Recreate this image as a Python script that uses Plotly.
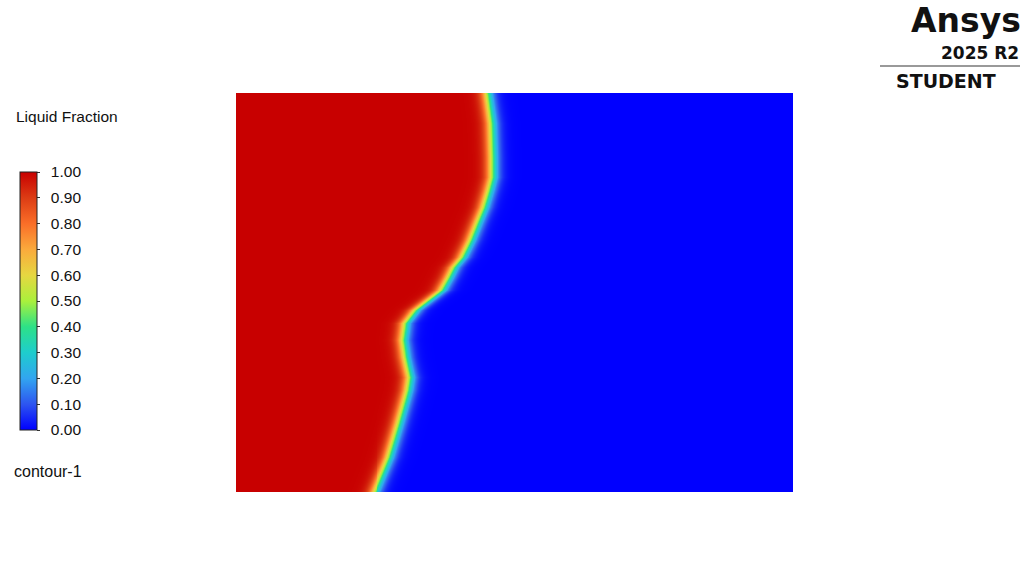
import numpy as np
import plotly.graph_objects as go

# ---- data ----
# Interface (liquid fraction = 0.5) location; domain width 0.14, height 0.1 (arbitrary units)
interface_y = [0.0, 0.00476, 0.00877, 0.01303, 0.01729, 0.02130, 0.02556, 0.02882, 0.03384,
               0.03810, 0.04236, 0.04561, 0.04812, 0.05063, 0.05389, 0.05639, 0.05890, 0.06316,
               0.06742, 0.07143, 0.07569, 0.07895, 0.08396, 0.09248, 0.10000]
interface_x = [0.03469, 0.03662, 0.03828, 0.03954, 0.04079, 0.04190, 0.04306, 0.04356, 0.04248,
               0.04190, 0.04248, 0.04499, 0.04826, 0.05153, 0.05336, 0.05462, 0.05673, 0.05882,
               0.06050, 0.06216, 0.06342, 0.06427, 0.06427, 0.06402, 0.06301]
domain_w = 0.14
domain_h = 0.10
transition_width = 0.001

tick_vals = [0.0, 0.1, 0.2, 0.3, 0.4, 0.5, 0.6, 0.7, 0.8, 0.9, 1.0]
tick_text = ["0.00", "0.10", "0.20", "0.30", "0.40", "0.50", "0.60", "0.70", "0.80", "0.90", "1.00"]

colorscale = [
    [0.0, "rgb(0,0,255)"],
    [0.1, "rgb(45,85,240)"],
    [0.2, "rgb(50,165,240)"],
    [0.3, "rgb(30,205,205)"],
    [0.4, "rgb(45,225,135)"],
    [0.5, "rgb(170,240,60)"],
    [0.6, "rgb(230,215,65)"],
    [0.7, "rgb(250,170,60)"],
    [0.8, "rgb(250,110,40)"],
    [0.9, "rgb(220,60,20)"],
    [1.0, "rgb(200,0,0)"],
]

# ---- field built from the interface ----
nx, ny = 560, 400
xs = np.linspace(0, domain_w, nx)
ys = np.linspace(0, domain_h, ny)
xi = np.interp(ys, interface_y, interface_x)
X, Y = np.meshgrid(xs, ys)
d = X - xi[:, None]
Z = 1.0 / (1.0 + np.exp(d / transition_width))

pad = "\u2002"
fig = go.Figure()
fig.add_trace(go.Heatmap(
    x=xs, y=ys, z=Z, zmin=0, zmax=1, colorscale=colorscale, zsmooth="best",
    colorbar=dict(
        x=20 / 1029, xanchor="left", xref="paper",
        y=1 - 301 / 586, yanchor="middle",
        len=258 / 586, lenmode="fraction",
        thickness=17, thicknessmode="pixels",
        outlinecolor="#222222", outlinewidth=1,
        tickvals=tick_vals, ticktext=[pad + t for t in tick_text],
        ticks="outside", ticklen=3, tickcolor="#333333",
        tickfont=dict(family="Liberation Sans, Arial, sans-serif", size=15.5, color="#111111"),
        xpad=0, ypad=0,
    ),
    hoverinfo="skip",
))

W, H = 1029, 586
fig.update_layout(
    width=W, height=H,
    margin=dict(l=0, r=0, t=0, b=0),
    paper_bgcolor="white", plot_bgcolor="white",
    xaxis=dict(domain=[236 / W, 793 / W], range=[0, domain_w], visible=False),
    yaxis=dict(domain=[1 - 492 / H, 1 - 93 / H], range=[0, domain_h], visible=False),
    showlegend=False,
)

font_txt = dict(family="Liberation Sans, Arial, sans-serif", size=15.5, color="#111111")
fig.add_annotation(x=14 / W, y=1 - 117 / H, xref="paper", yref="paper", xanchor="left", yanchor="middle",
                   text="Liquid Fraction", showarrow=False, font=font_txt)
fig.add_annotation(x=12 / W, y=1 - 471 / H, xref="paper", yref="paper", xanchor="left", yanchor="middle",
                   text="contour-1", showarrow=False, font=dict(font_txt, size=16))

# Ansys logo text
logo_font = "DejaVu Sans, sans-serif"
fig.add_annotation(x=1022 / W, y=1 - 21 / H, xref="paper", yref="paper", xanchor="right", yanchor="middle",
                   text="<b>Ansys</b>", showarrow=False, borderpad=0,
                   font=dict(family=logo_font, size=33, color="#111111"))
fig.add_annotation(x=1020 / W, y=1 - 53.5 / H, xref="paper", yref="paper", xanchor="right", yanchor="middle",
                   text="<b>2025 R2</b>", showarrow=False, borderpad=0,
                   font=dict(family=logo_font, size=17, color="#111111"))
fig.add_shape(type="line", xref="paper", yref="paper", x0=880 / W, x1=1020 / W,
              y0=1 - 66 / H, y1=1 - 66 / H, line=dict(color="#777777", width=1.5))
fig.add_annotation(x=946 / W, y=1 - 81 / H, xref="paper", yref="paper", xanchor="center", yanchor="middle",
                   text="<b>STUDENT</b>", showarrow=False, borderpad=0,
                   font=dict(family=logo_font, size=19, color="#111111"))

fig.write_html("out.html")
